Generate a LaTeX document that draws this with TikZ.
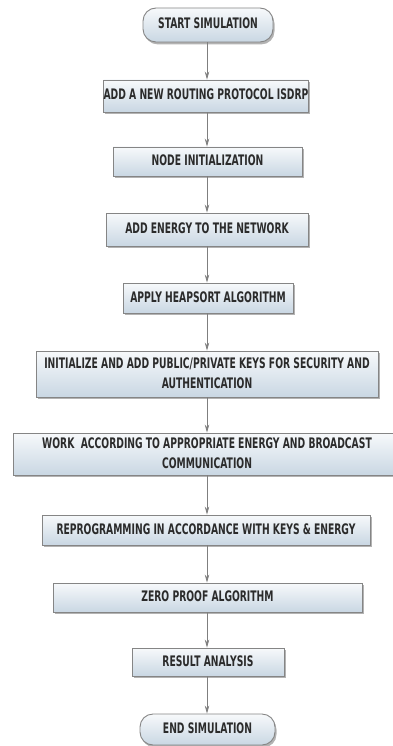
\documentclass[tikz,border=0pt]{standalone}
\usepackage{fontspec}
\usepackage{graphicx}
\setmainfont{DejaVu Sans}
\usetikzlibrary{shadows,arrows.meta}

% condensed, centred label text (one or more lines separated by \\)
\newcommand\steplabel[1]{\scalebox{0.635}[1]{\begin{tabular}{@{}c@{}}#1\end{tabular}}}

\definecolor{boxtop}{HTML}{F7F9FB}
\definecolor{boxbottom}{HTML}{C9D7E3}
\definecolor{boxedge}{HTML}{858585}
\definecolor{labelink}{HTML}{2B2B2B}
\definecolor{flowline}{HTML}{7F7F7F}

\tikzset{
  boxbase/.style={draw=boxedge, line width=0.9pt,
    top color=boxtop, bottom color=boxbottom,
    drop shadow={shadow xshift=1.5pt, shadow yshift=-2.4pt, fill=black!50, opacity=0.6},
    inner sep=0pt, text=labelink,
    font=\bfseries\fontsize{14.5}{20}\selectfont},
  stepbox/.style={boxbase, rectangle},
  termbox/.style={boxbase, rectangle, rounded corners=13pt},
  flow/.style={draw=flowline, line width=0.7pt,
    -{Stealth[length=8pt,width=4.5pt,fill=flowline]}},
}

\begin{document}
\begin{tikzpicture}[x=1pt,y=-1pt]
  \useasboundingbox (0,0) rectangle (392,746);

  \node[termbox, minimum width=130pt, minimum height=34pt] (start) at (208,25)
    {\steplabel{START SIMULATION}};
  \node[stepbox, minimum width=202pt, minimum height=32pt] (proto) at (206,96)
    {\steplabel{ADD A NEW ROUTING PROTOCOL ISDRP}};
  \node[stepbox, minimum width=189pt, minimum height=29pt] (init) at (207.5,161.5)
    {\steplabel{NODE INITIALIZATION}};
  \node[stepbox, minimum width=202pt, minimum height=33pt] (energy) at (207,229.5)
    {\steplabel{ADD ENERGY TO THE NETWORK}};
  \node[stepbox, minimum width=170pt, minimum height=30pt] (heap) at (208,298)
    {\steplabel{APPLY HEAPSORT ALGORITHM}};
  \node[stepbox, minimum width=342pt, minimum height=46pt] (keys) at (207,374)
    {\steplabel{INITIALIZE AND ADD PUBLIC/PRIVATE KEYS FOR SECURITY AND\\AUTHENTICATION}};
  \node[stepbox, minimum width=388pt, minimum height=42pt] (work) at (207,454)
    {\steplabel{WORK\ \ ACCORDING TO APPROPRIATE ENERGY AND BROADCAST\\COMMUNICATION}};
  \node[stepbox, minimum width=328pt, minimum height=30pt] (reprog) at (206,530)
    {\steplabel{REPROGRAMMING IN ACCORDANCE WITH KEYS \& ENERGY}};
  \node[stepbox, minimum width=309pt, minimum height=29pt] (zero) at (207.5,597.5)
    {\steplabel{ZERO PROOF ALGORITHM}};
  \node[stepbox, minimum width=152pt, minimum height=28pt] (result) at (208,662)
    {\steplabel{RESULT ANALYSIS}};
  \node[termbox, minimum width=135pt, minimum height=31pt] (finish) at (207.5,729.5)
    {\steplabel{END SIMULATION}};

  \foreach \a/\b in {start/proto, proto/init, init/energy, energy/heap,
                     heap/keys, keys/work, work/reprog, reprog/zero,
                     zero/result, result/finish}
    \draw[flow] (\a.south -| 207,0) -- (\b.north -| 207,0);
\end{tikzpicture}
\end{document}
